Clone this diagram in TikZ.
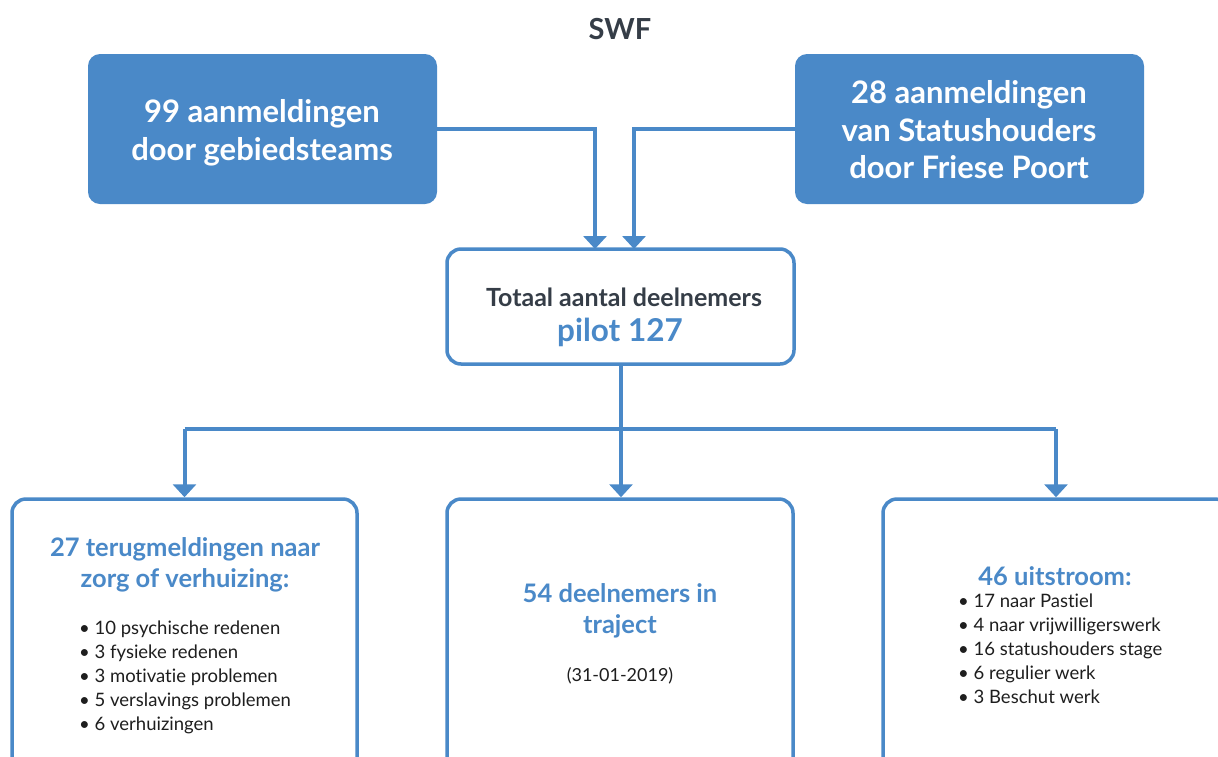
\documentclass[tikz,border=0pt]{standalone}
\usepackage{fontspec}
\setmainfont{Lato}[Ligatures=NoCommon]
\usetikzlibrary{arrows.meta}
\definecolor{swfblue}{HTML}{4A89C8}
\definecolor{swfdark}{HTML}{353D47}
\definecolor{swftext}{HTML}{1E1E1E}
\tikzset{
  filledbox/.style={fill=swfblue, draw=none, rounded corners=12pt, minimum width=349pt, minimum height=150pt, inner sep=0pt},
  outlinebox/.style={draw=swfblue, line width=3.5pt, rounded corners=14pt, fill=white, inner sep=0pt},
  conn/.style={draw=swfblue, line width=4pt, -{Triangle[width=23pt,length=13pt]}},
  plainline/.style={draw=swfblue, line width=4pt},
  toptext/.style={text=white, font=\fontsize{31}{37.5}\selectfont\bfseries, align=center, inner sep=0pt},
  headtext/.style={text=swfblue, font=\fontsize{25.5}{31}\selectfont\bfseries, align=center, inner sep=0pt},
  bullettext/.style={text=swftext, font=\fontsize{18.5}{24}\selectfont, align=left, inner sep=0pt, anchor=west},
}
\begin{document}
\begin{tikzpicture}[x=1pt,y=-1pt]
\useasboundingbox (0,0) rectangle (1218,756);
\clip (0,0) rectangle (1218,756);
\fill[white] (0,0) rectangle (1218,756);

% title
\node[text=swfdark, font=\fontsize{29}{32}\selectfont\bfseries, inner sep=0pt] (title) at (620,29) {SWF};

% top boxes
\node[filledbox] (L) at (262.5,129) {};
\node[filledbox] (R) at (969.5,129) {};
\node[toptext] (Lt) at (262,133) {99 aanmeldingen\\door gebiedsteams};
\node[toptext] (Rt) at (969,130) {28 aanmeldingen\\van Statushouders\\door Friese Poort};

% middle box
\node[outlinebox, minimum width=347pt, minimum height=115pt] (M) at (620.5,306.5) {};
\node[text=swfdark, font=\fontsize{25}{28}\selectfont\bfseries, inner sep=0pt] (Mt1) at (624,297) {Totaal aantal deelnemers};
\node[text=swfblue, font=\fontsize{31.5}{34}\selectfont\bfseries, inner sep=0pt] (Mt2) at (620,332) {pilot 127};

% bottom boxes
\node[outlinebox, minimum width=345pt, minimum height=320pt] (B1) at (184.5,659) {};
\node[outlinebox, minimum width=346pt, minimum height=320pt] (B2) at (620,659) {};
\node[outlinebox, minimum width=346pt, minimum height=320pt] (B3) at (1056,659) {};

% connectors
\coordinate (a1) at (595,249);
\coordinate (a2) at (634,249);
\draw[conn] (L.east) -| (a1);
\draw[conn] (R.west) -| (a2);
\coordinate (j) at (621,429);
\coordinate (jl) at (184.5,429);
\coordinate (jr) at (1056,429);
\draw[conn] (M.south -| j) -- (B2.north -| j);
\draw[plainline] (jl) -- (jr);
\draw[conn] (jl) -- (B1.north);
\draw[conn] (jr) -- (B3.north);

% left bottom text
\node[headtext] (B1h) at (185,565) {27 terugmeldingen naar\\zorg of verhuizing:};
\node[bullettext] (B1b) at (79,677) {• 10 psychische redenen\\• 3 fysieke redenen\\• 3 motivatie problemen\\• 5 verslavings problemen\\• 6 verhuizingen};

% middle bottom text
\node[headtext] (B2h) at (620,611) {54 deelnemers in\\traject};
\node[text=swftext, font=\fontsize{18}{20}\selectfont, inner sep=0pt] (B2d) at (620,676) {(31-01-2019)};

% right bottom text
\node[text=swfblue, font=\fontsize{25.5}{28}\selectfont\bfseries, inner sep=0pt] (B3h) at (1055,576) {46 uitstroom:};
\node[bullettext] (B3b) at (958,649) {• 17 naar Pastiel\\• 4 naar vrijwilligerswerk\\• 16 statushouders stage\\• 6 regulier werk\\• 3 Beschut werk};
\end{tikzpicture}
\end{document}
